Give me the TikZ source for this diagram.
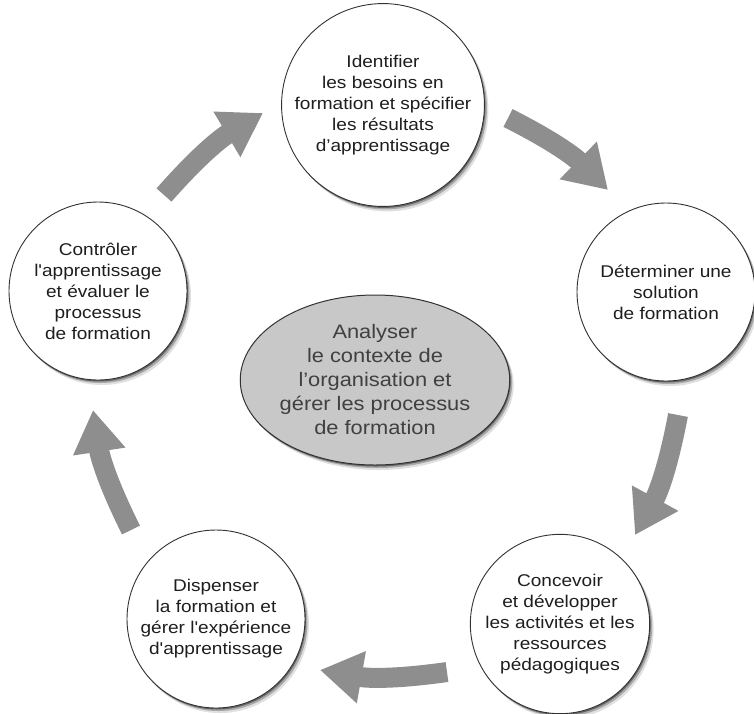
\documentclass[tikz,border=0pt]{standalone}
\usepackage{fontspec}
\newfontfamily\diagfont{Liberation Sans}[FakeStretch=1.12]
\usetikzlibrary{arrows.meta,shapes.geometric,shadows}
\definecolor{arrowgray}{RGB}{142,142,142}
\definecolor{ellgray}{RGB}{200,200,200}
\definecolor{txtgray}{RGB}{30,30,30}
\definecolor{bordergray}{RGB}{50,50,50}
\tikzset{
  softshadow/.style={
    drop shadow={shadow xshift=1pt,shadow yshift=-1.5pt,opacity=.40,fill=black},
    drop shadow={shadow xshift=2.5pt,shadow yshift=-3pt,opacity=.25,fill=black},
    drop shadow={shadow xshift=4pt,shadow yshift=-5pt,opacity=.12,fill=black}},
  stage/.style={circle, draw=bordergray, line width=0.9pt, fill=white,
    minimum size=178pt, inner sep=0pt, align=center,
    font=\diagfont\fontsize{17}{21}\selectfont, text=txtgray, softshadow},
  hub/.style={ellipse, draw=bordergray, line width=1pt, fill=ellgray,
    minimum width=250pt, minimum height=170pt, inner sep=0pt, align=center,
    font=\diagfont\fontsize{19.5}{24}\selectfont, text=txtgray!85!white, softshadow},
  flow/.style={draw=arrowgray, line width=20pt,
    -{Triangle[length=42pt,width=50pt,fill=arrowgray]}}
}
\begin{document}
\begin{tikzpicture}[x=1pt,y=1pt]
\useasboundingbox (0,0) rectangle (754,-713);

\node[stage] (T) at (383,-105) {Identifier\\les besoins en\\formation et spécifier\\les résultats\\d’apprentissage};
\node[stage] (R) at (666,-292) {Déterminer une\\solution\\de formation};
\node[stage] (BR) at (560,-624) {Concevoir\\et développer\\les activités et les\\ressources\\pédagogiques};
\node[stage] (BL) at (216,-619) {Dispenser\\la formation et\\gérer l'expérience\\d'apprentissage};
\node[stage] (L) at (98,-291) {Contrôler\\l'apprentissage\\et évaluer le\\processus\\de formation};

\node[hub] (C) at (375,-380) {Analyser\\le contexte de\\l’organisation et\\gérer les processus\\de formation};

\coordinate (a1s) at (164,-195); \coordinate (a1e) at (263,-113);
\coordinate (a2s) at (508,-118); \coordinate (a2e) at (608,-190);
\coordinate (a3s) at (678,-415); \coordinate (a3e) at (635,-535);
\coordinate (a4s) at (447,-672); \coordinate (a4e) at (320,-670);
\coordinate (a5s) at (131,-530); \coordinate (a5e) at (93,-410);

\draw[flow] (a1s) to[bend left=9] (a1e);
\draw[flow] (a2s) to[bend left=9] (a2e);
\draw[flow] (a3s) to[bend left=9] (a3e);
\draw[flow] (a4s) to[bend left=9] (a4e);
\draw[flow] (a5s) to[bend left=9] (a5e);
\end{tikzpicture}
\end{document}
